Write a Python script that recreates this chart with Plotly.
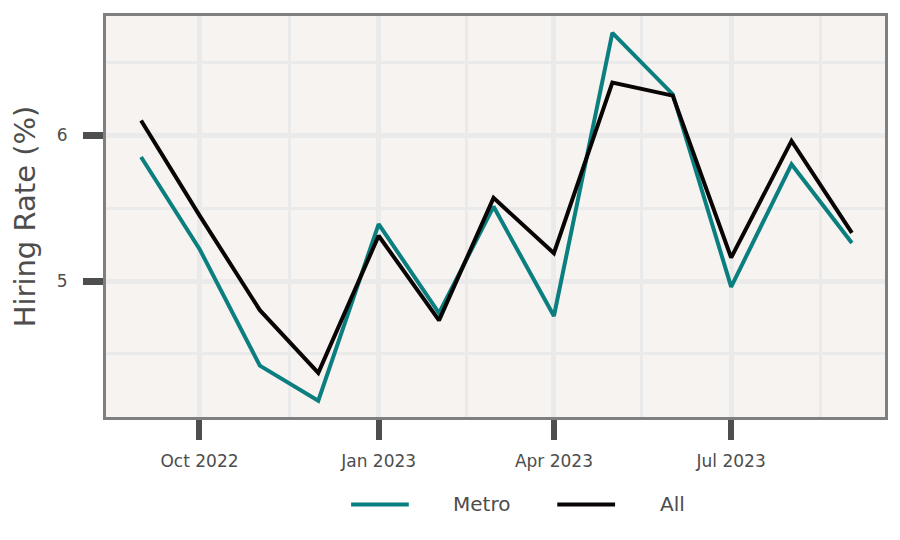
import plotly.graph_objects as go

months = ["2022-09-01", "2022-10-01", "2022-11-01", "2022-12-01", "2023-01-01",
          "2023-02-01", "2023-03-01", "2023-04-01", "2023-05-01", "2023-06-01",
          "2023-07-01", "2023-08-01", "2023-09-01"]
metro = [5.85, 5.22, 4.42, 4.18, 5.39, 4.78, 5.51, 4.76, 6.70, 6.28, 4.96, 5.80, 5.26]
all_ = [6.10, 5.45, 4.80, 4.37, 5.31, 4.73, 5.57, 5.19, 6.36, 6.27, 5.16, 5.96, 5.33]

series_names = ["Metro", "All"]
series_colors = ["#0b7f7f", "#0a0505"]

x_tickvals = ["2022-10-01", "2023-01-01", "2023-04-01", "2023-07-01"]
x_ticktext = ["Oct 2022", "Jan 2023", "Apr 2023", "Jul 2023"]
x_minor = ["2022-11-16", "2023-02-15", "2023-05-16", "2023-08-16"]

fig = go.Figure()
for name, vals, col in zip(series_names, [metro, all_], series_colors):
    fig.add_trace(go.Scatter(x=months, y=vals, mode="lines", name=name,
                             line=dict(color=col, width=4), showlegend=False))

# manual legend (wide line samples)
legend_y = -0.218
legend_items = [(0.3146, 0.3887, 0.443), (0.5793, 0.6535, 0.7085)]
for (x0, x1, xt), name, col in zip(legend_items, series_names, series_colors):
    fig.add_shape(type="line", xref="paper", yref="paper", x0=x0, x1=x1,
                  y0=legend_y, y1=legend_y, line=dict(color=col, width=4))
    fig.add_annotation(xref="paper", yref="paper", x=xt, y=legend_y, text=name,
                       showarrow=False, xanchor="left", yanchor="middle",
                       font=dict(family="DejaVu Sans", size=20, color="#4d4d4d"))

tickfont = dict(family="DejaVu Sans", size=17, color="#4d4d4d")
fig.update_layout(
    width=900, height=540,
    margin=dict(l=98, r=23, t=5, b=131),
    paper_bgcolor="white",
    plot_bgcolor="#f6f3f0",
    showlegend=False,
    xaxis=dict(
        type="date", range=["2022-08-14", "2023-09-18"],
        tickvals=x_tickvals, ticktext=x_ticktext,
        ticks="outside", ticklen=20, tickwidth=6, tickcolor="#4d4f4f",
        ticklabelstandoff=7, tickfont=tickfont,
        showgrid=True, gridcolor="#eaeaea", gridwidth=5,
        minor=dict(tickvals=x_minor, showgrid=True, gridcolor="#eaeaea", gridwidth=3, ticks=""),
        showline=True, linecolor="#7f7f7f", linewidth=3, mirror=True, zeroline=False,
    ),
    yaxis=dict(
        range=[4.068, 6.816],
        tickvals=[5, 6], ticktext=["5", "6"],
        ticks="outside", ticklen=20, tickwidth=7, tickcolor="#4d4f4f",
        ticklabelstandoff=12, tickfont=tickfont,
        showgrid=True, gridcolor="#eaeaea", gridwidth=5,
        minor=dict(dtick=0.5, tick0=4.5, showgrid=True, gridcolor="#eaeaea", gridwidth=3, ticks=""),
        showline=True, linecolor="#7f7f7f", linewidth=3, mirror=True, zeroline=False,
        title=dict(text="Hiring Rate (%)", font=dict(family="DejaVu Sans", size=29, color="#4d4d4d"),
                   standoff=18),
    ),
)

fig.write_html("out.html")
